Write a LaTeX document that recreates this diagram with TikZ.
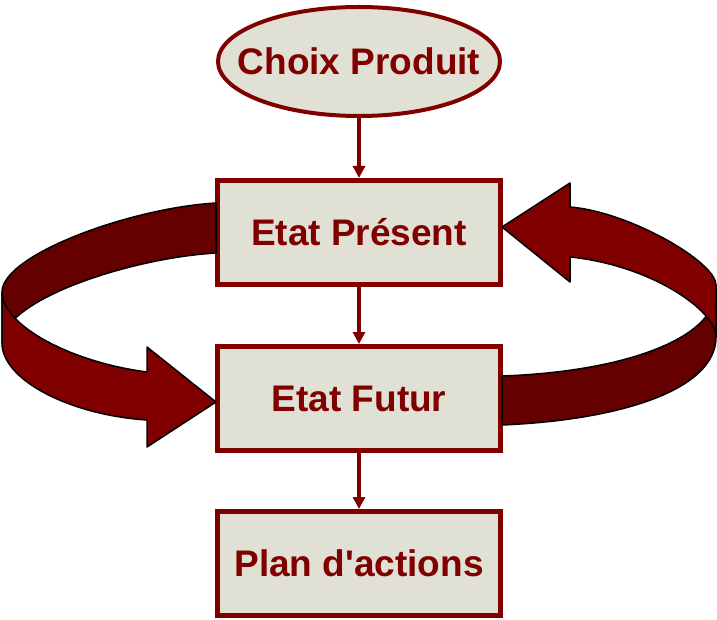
\documentclass[tikz,border=0pt]{standalone}
\usepackage{fontspec}
\setmainfont{Liberation Sans}
\usepackage{tikz}
\usetikzlibrary{arrows.meta}
\usetikzlibrary{positioning}
\usetikzlibrary{shapes.geometric}
\usepackage{xcolor}

\definecolor{bordeaux}{RGB}{128,0,0}
\definecolor{bordeauxfonce}{RGB}{100,0,0}
\definecolor{fond}{RGB}{224,224,213}

\tikzset{
	texte/.style={font=\fontsize{37}{44}\selectfont\bfseries, text=bordeaux},
	etape/.style={texte, draw=bordeaux, fill=fond, line width=5pt, minimum width=283pt, minimum height=104pt},
	depart/.style={texte, ellipse, draw=bordeaux, fill=fond, line width=4pt, minimum width=282pt, minimum height=109pt, inner sep=0pt},
	lien/.style={draw=bordeaux, line width=4pt, -{Triangle[length=12pt,width=12pt]}},
	ruban/.style={draw=black, line width=1.5pt, line join=round}
}

\begin{document}
\begin{tikzpicture}[x=1pt, y=-1pt]
		\useasboundingbox (0,0) rectangle (717,620);
		
		\node[depart](choix) at (359,61.5){\makebox[0pt]{Choix Produit}};
		\node[etape, below=60pt of choix](present){Etat Présent};
		\node[etape, below=57pt of present](futur){Etat Futur};
		\node[etape, below=56pt of futur](plan){Plan d\textquotesingle actions};
		
		\draw[lien] (choix) -- (present);
		\draw[lien] (present) -- (futur);
		\draw[lien] (futur) -- (plan);
		
		\draw[ruban, fill=bordeauxfonce] (216,203) .. controls (130,208) and (2,255) .. (2,292) -- (2,343) .. controls (2,300) and (130,258) .. (216,253) -- cycle;
		\draw[ruban, fill=bordeaux] (2,292) .. controls (2,325) and (70,362) .. (147,372) -- (147,347) -- (216,402) -- (147,447) -- (147,420) .. controls (70,415) and (2,380) .. (2,343) -- cycle;
		
		\draw[ruban, fill=bordeauxfonce] (502,376) .. controls (620,372) and (716,340) .. (716,290) -- (716,337) .. controls (716,390) and (620,420) .. (502,425) -- cycle;
		\draw[ruban, fill=bordeaux] (570,207) .. controls (630,212) and (716,262) .. (716,285) -- (716,337) .. controls (716,310) and (650,265) .. (570,257) -- (570,282) -- (502,227) -- (570,183) -- cycle;
	\end{tikzpicture}
\end{document}
